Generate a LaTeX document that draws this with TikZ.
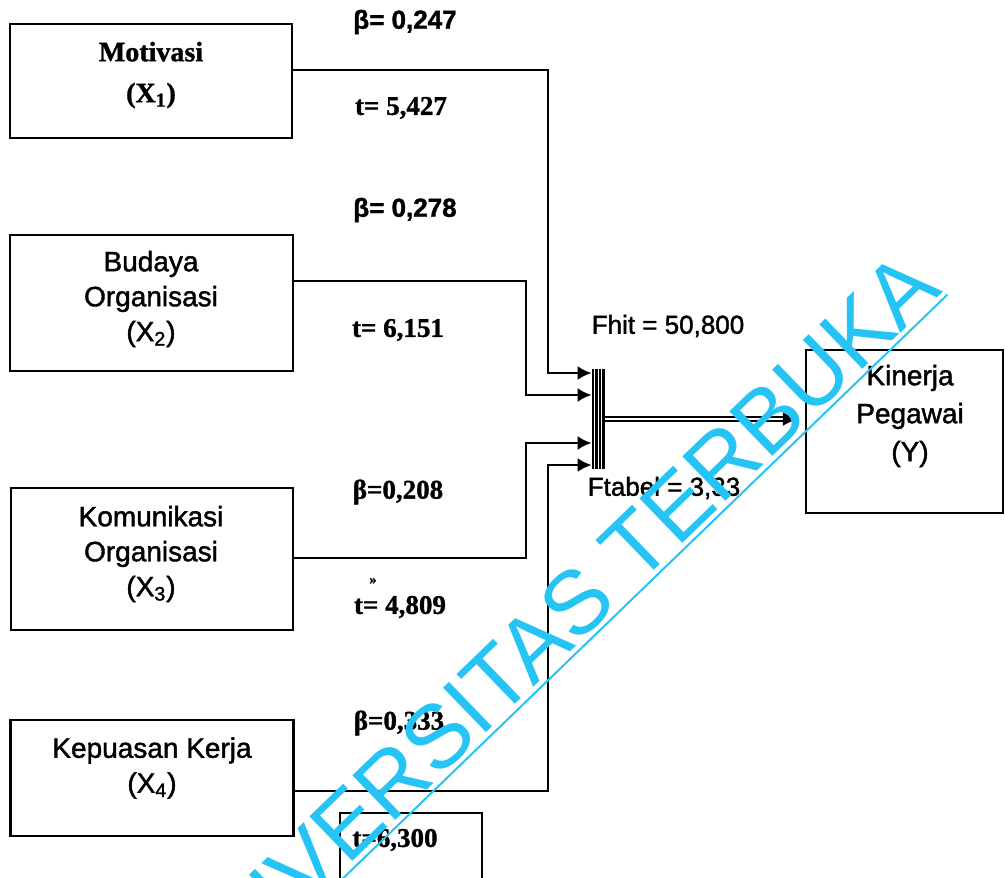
\documentclass[tikz,border=0pt]{standalone}
\usepackage{fontspec}
\setmainfont{Liberation Serif}[BoldFeatures={FakeBold=1.2}]
\newfontfamily\labelsans{Liberation Sans}[FakeBold=1.5]
\newfontfamily\wmsans{Liberation Sans}
\usetikzlibrary{arrows.meta,calc}
\definecolor{watermark}{RGB}{38,196,245}

\begin{document}
\begin{tikzpicture}[x=0.5pt, y=-0.5pt, >={Latex[length=7pt,width=7pt]},
    var/.style={draw, line width=1.2pt, inner sep=0pt},
    sanslabel/.style={font=\labelsans\fontsize{14}{#1}\selectfont, align=center},
    seriflabel/.style={font=\bfseries\fontsize{14}{#1}\selectfont, align=center},
    coefsans/.style={font=\labelsans\bfseries\fontsize{13}{15}\selectfont, inner sep=0pt},
    coefserif/.style={font=\bfseries\fontsize{13.5}{15}\selectfont, inner sep=0pt},
    link/.style={line width=1.2pt}]
    \useasboundingbox (0,0) rectangle (1005,877);

    % variable boxes
    \node[var, minimum width=141pt, minimum height=57pt] (x1) at (151,81) {};
    \node[var, minimum width=141.5pt, minimum height=68pt] (x2) at (151.5,303) {};
    \node[var, minimum width=141pt, minimum height=71pt] (x3) at (152,559) {};
    \node[var, minimum width=141.5pt, minimum height=58pt] (x4) at (152,778) {};
    \node[var, minimum width=98.5pt, minimum height=81.5pt] (y) at (904.5,431.5) {};
    \node[var, minimum width=71pt, minimum height=57pt] (t4box) at (411,870) {};

    \node[seriflabel=20.5pt] (x1name) at (151,75) {Motivasi\\(X\textsubscript{1})};
    \node[sanslabel=17.5pt] (x2name) at (151,299) {Budaya\\Organisasi\\(X\textsubscript{2})};
    \node[sanslabel=17.5pt] (x3name) at (151,554) {Komunikasi\\Organisasi\\(X\textsubscript{3})};
    \node[sanslabel=17.5pt] (x4name) at (152,768) {Kepuasan Kerja\\(X\textsubscript{4})};
    \node[sanslabel=19pt] (yname) at (910,416) {Kinerja\\Pegawai\\(Y)};

    % coefficients
    \node[coefsans] (b1) at (405,22) {β= 0,247};
    \node[coefserif] (t1) at (401,108) {t= 5,427};
    \node[coefsans] (b2) at (405,210) {β= 0,278};
    \node[coefserif] (t2) at (398,330) {t= 6,151};
    \node[coefserif] (b3) at (398,492) {β=0,208};
    \node[coefserif, font=\bfseries\fontsize{7}{8}\selectfont] (mark) at (373,581) {»};
    \node[coefserif] (t3) at (400,607) {t= 4,809};
    \node[coefserif] (b4) at (399,723) {β=0,333};
    \node[coefserif] (t4) at (395,840) {t=6,300};

    \node[coefsans, font=\labelsans\fontsize{13}{15}\selectfont] (fhit) at (668,326) {Fhit = 50,800};
    \node[coefsans, font=\labelsans\fontsize{13}{15}\selectfont] (ftab) at (664,488) {Ftabel = 3,33};

    % merging bar
    \node[minimum width=6.5pt, minimum height=50pt, inner sep=0pt] (bar) at (598.5,419) {};
    \foreach \k in {0.7,2.4,4.1,5.8}
        \draw[line width=1.3pt] ([xshift=\k pt]bar.north west) -- ([xshift=\k pt]bar.south west);

    \draw[link,->] (x1.east |- 0,70) -| (548,373) -- (bar.west |- 0,373);
    \draw[link,->] (x2.east |- 0,281) -| (526,395) -- (bar.west |- 0,395);
    \draw[link,->] (x3.east |- 0,558) -| (526,443) -- (bar.west |- 0,443);
    \draw[link,->] (x4.east |- 0,791) -| (548,465) -- (bar.west |- 0,465);

    \draw[line width=1.2pt, double, double distance=1pt, -{Latex[length=8pt,width=7pt]}, shorten >=3pt] (bar.east) -- (y.west |- bar.east);

    % watermark
    \node[font=\wmsans\fontsize{45}{50}\selectfont, text=watermark, rotate=44, anchor=base east, inner sep=0pt] (wm) at (944,291) {UNIVERSITAS TERBUKA};
    \draw[watermark, line width=1pt] ($(wm.base west)!2.5pt!-90:(wm.base east)$) -- ($(wm.base east)!2.5pt!90:(wm.base west)$);
\end{tikzpicture}
\end{document}
